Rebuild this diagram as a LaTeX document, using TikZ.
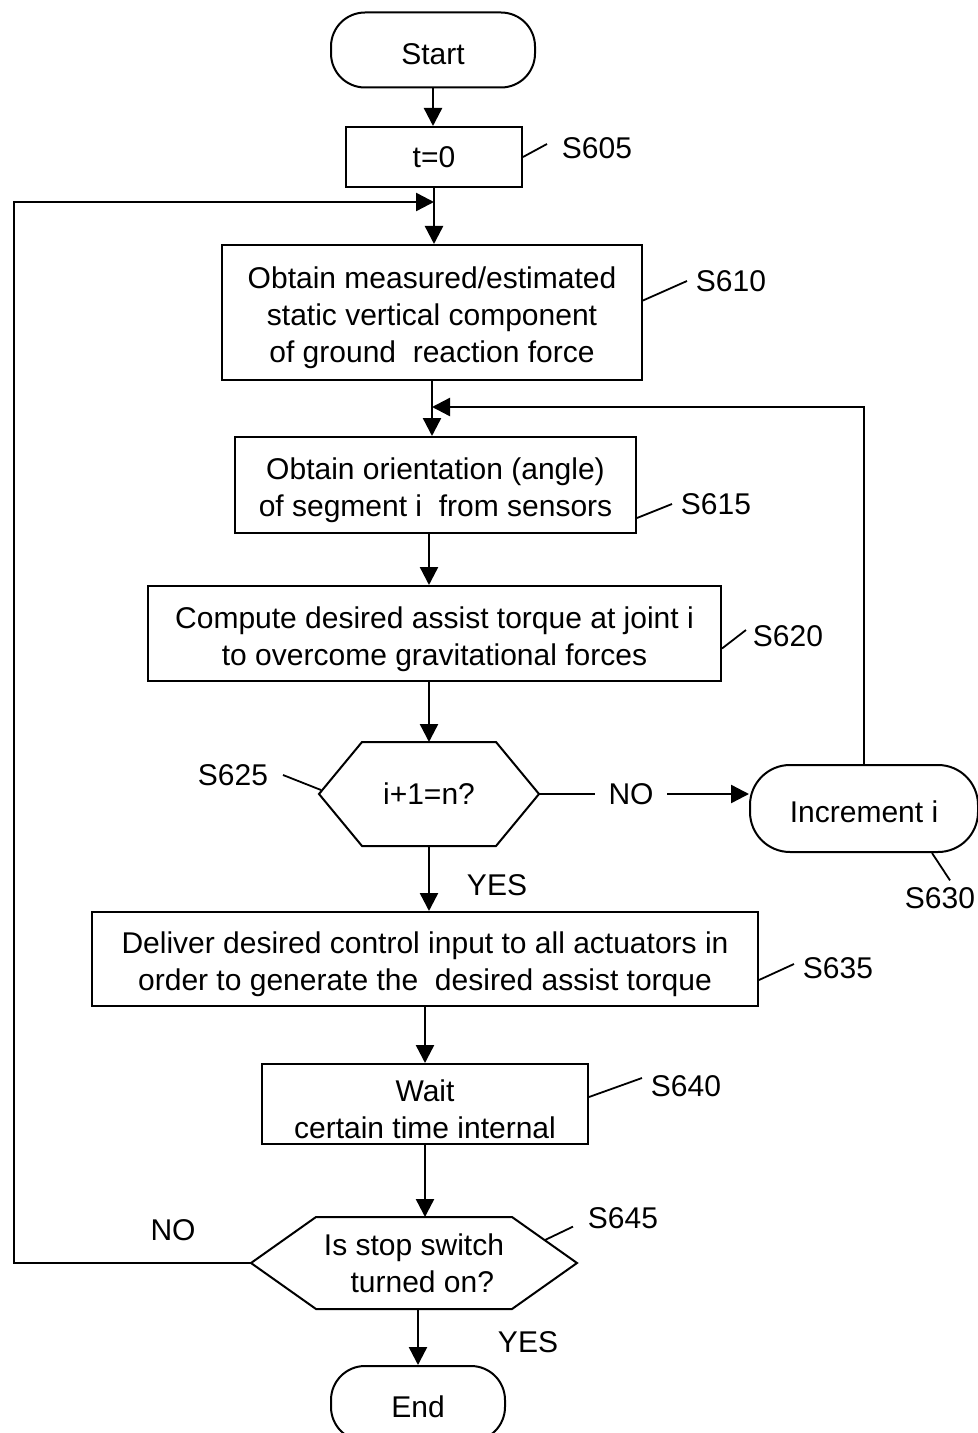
\documentclass[tikz,border=0pt]{standalone}
\usepackage{fontspec}
\setmainfont{Liberation Sans}
\usetikzlibrary{arrows.meta}
\newcommand\hstrut{\rule{0pt}{16.5pt}}

\begin{document}
\begin{tikzpicture}[x=0.5pt, y=-0.5pt, line width=1pt,
    every node/.style={font={\fontsize{15}{18.5}\selectfont}},
    proc/.style={draw, align=center, inner sep=2pt},
    term/.style={draw, rounded corners=17pt, inner sep=2pt,
      execute at begin node={\rule{0pt}{14.5pt}}},
    hexa/.style={inner sep=2pt, align=center},
    stepno/.style={inner sep=1pt},
    flow/.style={line width=1.2pt, -{Triangle[length=9pt,width=9pt]}},
    lead/.style={line width=0.9pt}]
    %---- page size (px of the scan)
    \useasboundingbox (0,0) rectangle (978,1433);
    %---- hexagon round a node: #1 node, #2 indent of the side points
    \def\hexa#1#2{\draw (#1.west) -- ([xshift=#2]#1.north west)
      -- ([xshift=-#2]#1.north east) -- (#1.east)
      -- ([xshift=-#2]#1.south east) -- ([xshift=#2]#1.south west) -- cycle;}

    %---- blocks
    \node[term, minimum width=102pt, minimum height=37.5pt] (start) at (433,50) {Start};
    \node[proc, minimum width=88pt, minimum height=30pt] (t0) at (434,157) {t=0};
    \node[proc, minimum width=210pt, minimum height=67.5pt] (s610) at (432,312.5)
      {\hstrut Obtain measured/estimated\\static vertical component\\of ground\ \ reaction force};
    \node[proc, minimum width=200.5pt, minimum height=48pt] (s615) at (435.5,485)
      {\hstrut Obtain orientation (angle)\\of segment i\ \ from sensors};
    \node[proc, minimum width=286.5pt, minimum height=47.5pt] (s620) at (434.5,633.5)
      {\hstrut Compute desired assist torque at joint i\\to overcome gravitational forces};
    \node[hexa, minimum width=109pt, minimum height=51pt] (s625) at (429,794) {i+1=n?};
    \hexa{s625}{21.5pt}
    \node[term, rounded corners=20pt, minimum width=114pt, minimum height=43.5pt] (inc) at (864,808.5) {Increment i};
    \node[proc, minimum width=333pt, minimum height=47pt] (s635) at (425,959)
      {\hstrut Deliver desired control input to all actuators in\\order to generate the\ \ desired assist torque};
    \node[proc, minimum width=163pt, minimum height=40pt] (s640) at (425,1104)
      {\hstrut Wait\\certain time internal};
    \node[hexa, minimum width=162pt, minimum height=45pt] (s645) at (414,1263)
      {Is stop switch\\\ \ turned on?};
    \hexa{s645}{32.5pt}
    \node[term, minimum width=87pt, minimum height=37.5pt] (end) at (418,1403.5) {End};

    %---- step numbers
    \node[stepno] (l605) at (597,148) {S605};
    \node[stepno] (l610) at (731,281) {S610};
    \node[stepno] (l615) at (716,504) {S615};
    \node[stepno] (l620) at (788,636) {S620};
    \node[stepno] (l625) at (233,775) {S625};
    \node[stepno] (l630) at (940,898) {S630};
    \node[stepno] (l635) at (838,968) {S635};
    \node[stepno] (l640) at (686,1086) {S640};
    \node[stepno] (l645) at (623,1218) {S645};
    \draw[lead] (t0.east) -- ([xshift=-6pt,yshift=2pt]l605.west);
    \draw[lead] ([yshift=6pt]s610.east) -- ([xshift=-3pt]l610.west);
    \draw[lead] ([yshift=8pt]s615.south east) -- ([xshift=-3pt]l615.west);
    \draw[lead] ([yshift=-7.5pt]s620.east) -- ([xshift=-2pt,yshift=3pt]l620.west);
    \draw[lead] ([xshift=6pt]l625.east) -- ([xshift=1pt,yshift=2pt]s625.west);
    \draw[lead] ([xshift=34pt]inc.south) -- ([xshift=5pt,yshift=2pt]l630.north);
    \draw[lead] ([yshift=-10.5pt]s635.east) -- ([xshift=-3pt,yshift=2pt]l635.west);
    \draw[lead] ([yshift=3.5pt]s640.east) -- ([xshift=-3pt,yshift=4pt]l640.west);
    \draw[lead] ([xshift=-16pt,yshift=11.5pt]s645.east) -- ([xshift=-6pt,yshift=2.5pt]l645.south west);

    %---- yes / no
    \node (no1) at (631,794) {NO};
    \node (yes1) at (497,885) {YES};
    \node (no2) at (173,1230) {NO};
    \node (yes2) at (528,1342) {YES};

    %---- junctions on the main line
    \coordinate (m1) at (434,202);
    \coordinate (m2) at (432,407);

    %---- flow lines
    \draw[flow] (start.south) -- (start.south |- t0.north);
    \draw[flow] (t0.south) -- (t0.south |- s610.north);
    \draw[flow] (s610.south) -- (s610.south |- s615.north);
    \draw[flow] (s615.south -| s625.north) -- (s620.north -| s625.north);
    \draw[flow] (s625.north |- s620.south) -- (s625.north);
    \draw[flow] (s625.south) -- (s625.south |- s635.north);
    \draw[flow] (s640.north |- s635.south) -- (s640.north);
    \draw[flow] (s640.south) -- (s640.south |- s645.north);
    \draw[flow] (end.north |- s645.south) -- (end.north);
    %---- NO branch of S625 and back to S615
    \draw[line width=1.2pt] (s625.east) -- ([xshift=-3pt]no1.west);
    \draw[flow] ([xshift=3pt]no1.east) -- (no1.east -| inc.west);
    \draw[flow] (inc.north) |- (m2);
    %---- NO branch of S645 back to S610
    \draw[flow] (s645.west) -- ++(-237,0) |- (m1);
\end{tikzpicture}
\end{document}
